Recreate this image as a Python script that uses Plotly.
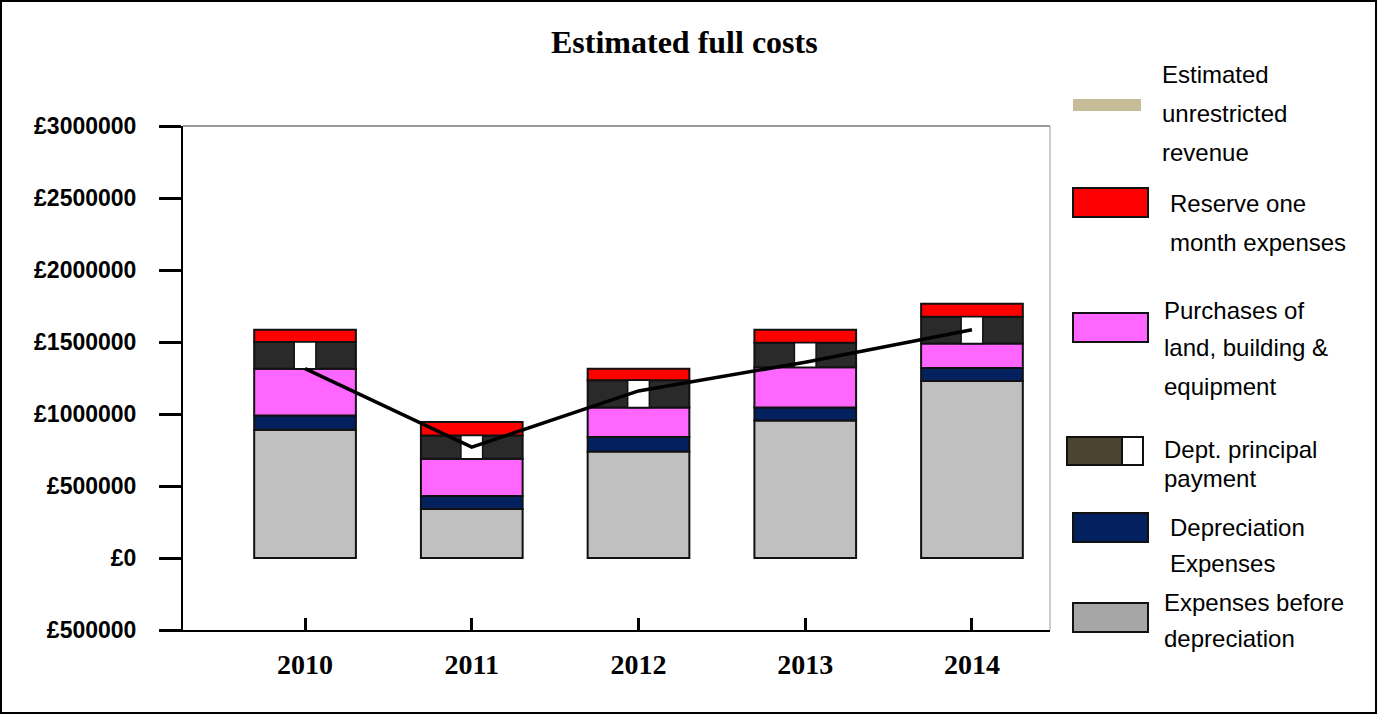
import numpy as np
import plotly.graph_objects as go

# ---- data -----------------------------------------------------------------
years = ["2010", "2011", "2012", "2013", "2014"]
expenses_before_depreciation = [890000, 340000, 740000, 955000, 1230000]
depreciation_expenses = [100000, 90000, 100000, 90000, 90000]
purchases_land_building = [325000, 260000, 205000, 280000, 170000]
debt_principal_payment = [185000, 160000, 190000, 170000, 185000]
reserve_one_month = [85000, 95000, 80000, 90000, 90000]
unrestricted_revenue = [1315000, 770000, 1160000, 1360000, 1585000]

y_tick_values = [-500000, 0, 500000, 1000000, 1500000, 2000000, 2500000, 3000000]
y_tick_labels = ["£500000", "£0", "£500000", "£1000000", "£1500000",
                 "£2000000", "£2500000", "£3000000"]

title_text = "Estimated full costs"
legend_lines = [
    ["Estimated", "unrestricted", "revenue"],
    ["Reserve one", "month expenses"],
    ["Purchases of", "land, building &", "equipment"],
    ["Dept. principal", "payment"],
    ["Depreciation", "Expenses"],
    ["Expenses before", "depreciation"],
]

# ---- page geometry (pixels) ----------------------------------------------
FIG_W, FIG_H = 1378, 715
PLOT_L, PLOT_R, PLOT_T, PLOT_B = 183, 1050, 126, 630
PW, PH = PLOT_R - PLOT_L, PLOT_B - PLOT_T


def px(xp):
    return (xp - PLOT_L) / PW


def py(yp):
    return (PLOT_B - yp) / PH


# ---- stacked segments (bottom to top) --------------------------------------
segments = [
    (expenses_before_depreciation, "#C0C0C0"),
    (depreciation_expenses, "#03215F"),
    (purchases_land_building, "#FF66FF"),
    (debt_principal_payment, "#2A2A2A"),
    (reserve_one_month, "#FF0000"),
]
values = np.array([s[0] for s in segments], dtype=float)
bases = np.vstack([np.zeros(len(years)), np.cumsum(values, axis=0)[:-1]])

BAR_W = 0.61
fig = go.Figure()
for (vals, color), base in zip(segments, bases):
    fig.add_trace(go.Bar(
        x=years, y=vals, base=base, width=BAR_W,
        marker=dict(color=color, line=dict(color="#111111", width=2)),
        showlegend=False, hoverinfo="skip",
    ))

# white block inside the debt principal segment
fig.add_trace(go.Bar(
    x=years, y=debt_principal_payment, base=bases[3], width=0.13,
    marker=dict(color="#FFFFFF", line=dict(color="#111111", width=1.5)),
    showlegend=False, hoverinfo="skip",
))

# revenue line
fig.add_trace(go.Scatter(
    x=years, y=unrestricted_revenue, mode="lines",
    line=dict(color="#000000", width=3.5),
    showlegend=False, hoverinfo="skip",
))

shapes = []
annotations = []

# outer frame
shapes.append(dict(type="rect", xref="paper", yref="paper",
                   x0=px(1), x1=px(FIG_W - 2), y0=py(FIG_H - 2), y1=py(1),
                   line=dict(color="#000000", width=2), layer="below"))
# plot area top/right border
shapes.append(dict(type="line", xref="paper", yref="paper",
                   x0=0, x1=1, y0=1, y1=1,
                   line=dict(color="#333333", width=1)))
shapes.append(dict(type="line", xref="paper", yref="paper",
                   x0=1, x1=1, y0=0, y1=1,
                   line=dict(color="#999999", width=1)))

# title
annotations.append(dict(text="<b>%s</b>" % title_text, xref="paper", yref="paper",
                        x=px(684), y=py(42), showarrow=False,
                        xanchor="center", yanchor="middle",
                        font=dict(family="Liberation Serif", size=32, color="#000000")))

# legend swatches
legend_font = dict(family="Liberation Sans", size=24, color="#000000")


def swatch(x0, x1, y0, y1, color, border=True):
    shapes.append(dict(type="rect", xref="paper", yref="paper",
                       x0=px(x0), x1=px(x1), y0=py(y1), y1=py(y0),
                       fillcolor=color,
                       line=dict(color="#111111" if border else color,
                                 width=2 if border else 0)))


swatch(1073, 1141, 99, 111, "#C4BD97", border=False)
swatch(1073, 1148, 188, 217, "#FF0000")
swatch(1073, 1148, 313, 342, "#FF66FF")
swatch(1067, 1122, 437, 465, "#4A4430")
swatch(1122, 1143, 437, 465, "#FFFFFF")
swatch(1073, 1148, 513, 542, "#03215F")
swatch(1073, 1148, 603, 632, "#A6A6A6")

legend_text_pos = [
    (1160, [75, 113, 152]),
    (1168, [203, 242]),
    (1162, [310, 347, 387]),
    (1162, [450, 478]),
    (1168, [527, 563]),
    (1162, [602, 638]),
]
for lines, (xp, ys) in zip(legend_lines, legend_text_pos):
    for line, yp in zip(lines, ys):
        annotations.append(dict(text=line, xref="paper", yref="paper",
                                x=px(xp), y=py(yp), showarrow=False,
                                xanchor="left", yanchor="middle",
                                font=legend_font))

fig.update_layout(
    width=FIG_W, height=FIG_H,
    margin=dict(l=PLOT_L, r=FIG_W - PLOT_R, t=PLOT_T, b=FIG_H - PLOT_B, pad=0),
    paper_bgcolor="#FFFFFF", plot_bgcolor="#FFFFFF",
    barmode="overlay",
    shapes=shapes, annotations=annotations,
    showlegend=False,
)

fig.update_xaxes(
    type="category", range=[-0.732, 4.468],
    showgrid=False, zeroline=False,
    showline=True, linecolor="#000000", linewidth=2,
    ticks="inside", ticklen=12, tickwidth=3, tickcolor="#000000",
    tickfont=dict(family="Liberation Serif", size=28, color="#000000", weight="bold"),
    ticklabelstandoff=8,
)
fig.update_yaxes(
    range=[-500000, 3000000],
    tickvals=y_tick_values, ticktext=y_tick_labels,
    showgrid=False, zeroline=False,
    showline=True, linecolor="#000000", linewidth=2,
    ticks="outside", ticklen=22, tickwidth=3, tickcolor="#000000",
    tickfont=dict(family="Liberation Sans", size=23, color="#000000", weight="bold"),
    ticklabelstandoff=18,
)

fig.write_html("out.html")
